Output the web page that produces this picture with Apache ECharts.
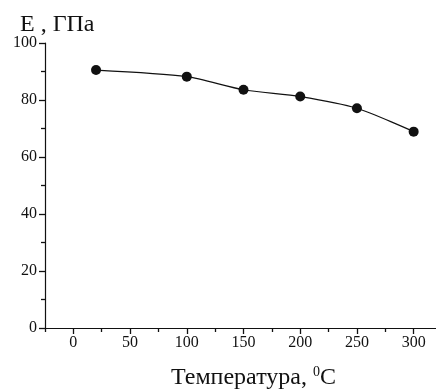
<!DOCTYPE html>
<html><head><meta charset="utf-8">
<script src="https://cdn.jsdelivr.net/npm/echarts@6/dist/echarts.min.js"></script>
<style>html,body{margin:0;padding:0;background:#fff}#c{width:436px;height:389px}</style>
</head><body><div id="c"></div>
<script>
const temps = [20, 100, 150, 200, 250, 300];
const modulus = [90.5, 88.2, 83.6, 81.2, 77.1, 68.9];
const xTickLabels = [0, 50, 100, 150, 200, 250, 300];

const font = 'Liberation Serif, Times New Roman, serif';
const chart = echarts.init(document.getElementById('c'));
chart.setOption({
  animation: false,
  backgroundColor: '#fff',
  title: {
    text: 'E , ГПа', left: 15, top: 8,
    textStyle: {fontFamily: font, fontSize: 24, fontWeight: 'normal', color: '#111'}
  },
  grid: {left: 45, top: 43, right: -6, bottom: 61, outerBoundsMode: 'none'},
  xAxis: [{
    type: 'value', min: -25, max: 325,
    axisLine: {show: true, onZero: false, lineStyle: {color: '#111', width: 1.2}},
    axisTick: {show: true, length: 6, customValues: xTickLabels, lineStyle: {color: '#111', width: 1.3}},
    axisLabel: {customValues: xTickLabels, fontFamily: font, fontSize: 16, color: '#111', margin: 7},
    splitLine: {show: false},
    name: '{a|Температура, }{s|0}{a|C}',
    nameLocation: 'middle', nameGap: 37,
    nameTextStyle: {
      padding: [0, 0, 0, 20],
      rich: {
        a: {fontFamily: font, fontSize: 24, color: '#111'},
        s: {fontFamily: font, fontSize: 14, color: '#111', padding: [0, 0, 12, 0]}
      }
    }
  }, {
    type: 'value', min: -25, max: 325, interval: 50, position: 'bottom',
    axisLine: {show: false, onZero: false},
    axisTick: {show: true, length: 4, lineStyle: {color: '#111', width: 1.3}},
    axisLabel: {show: false},
    splitLine: {show: false}
  }],
  yAxis: {
    type: 'value', min: 0, max: 100, interval: 20,
    axisLine: {show: true, onZero: false, lineStyle: {color: '#111', width: 1.2}},
    axisTick: {show: true, length: 6, lineStyle: {color: '#111', width: 1.3}},
    minorTick: {show: true, splitNumber: 2, length: 4, lineStyle: {color: '#111', width: 1.3}},
    axisLabel: {fontFamily: font, fontSize: 16, color: '#111', margin: 8},
    splitLine: {show: false}
  },
  series: [{
    type: 'line',
    data: temps.map((t, i) => [t, modulus[i]]),
    smooth: 0.25,
    symbol: 'circle', symbolSize: 10,
    lineStyle: {color: '#111', width: 1.2},
    itemStyle: {color: '#111'}
  }]
});
</script></body></html>
